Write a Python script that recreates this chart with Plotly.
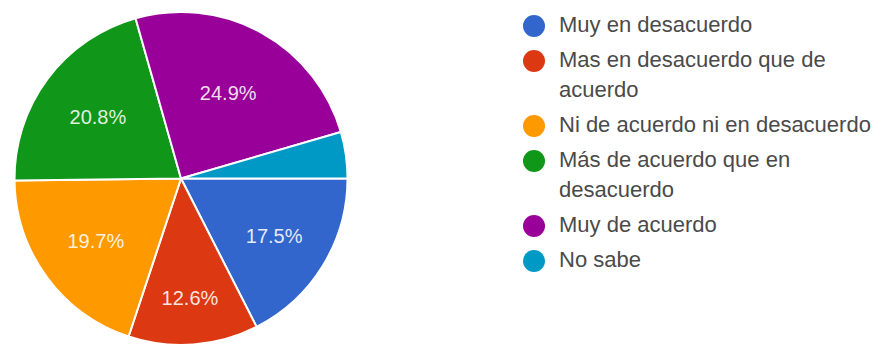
import plotly.graph_objects as go

# Datos de la encuesta (porcentajes)
categorias = [
    "Muy en desacuerdo",
    "Mas en desacuerdo que de acuerdo",
    "Ni de acuerdo ni en desacuerdo",
    "Más de acuerdo que en desacuerdo",
    "Muy de acuerdo",
    "No sabe",
]
# Etiquetas de la leyenda, con los saltos de línea del original
leyenda = [
    "Muy en desacuerdo",
    "Mas en desacuerdo que de<br>acuerdo",
    "Ni de acuerdo ni en desacuerdo",
    "Más de acuerdo que en<br>desacuerdo",
    "Muy de acuerdo",
    "No sabe",
]
porcentajes = [17.5, 12.6, 19.7, 20.8, 24.9, 4.5]
colores = ["#3366CC", "#DC3912", "#FF9900", "#109618", "#990099", "#0099C6"]

# Las porciones pequeñas no llevan etiqueta (como en Google Forms)
textos = ["%{percent:.1%}" if p >= 5 else "" for p in porcentajes]

# La página tiene 8 px de margen en el body, la figura se achica lo mismo
ancho, alto = 876, 337

fig = go.Figure()

# Gráfico de torta
fig.add_trace(go.Pie(
    labels=categorias,
    values=porcentajes,
    marker=dict(colors=colores, line=dict(color="white", width=2)),
    sort=False,
    direction="clockwise",
    rotation=90,
    texttemplate=textos,
    textposition="inside",
    insidetextorientation="horizontal",
    textfont=dict(color="rgba(255,255,255,0.88)", size=20, family="Arial, Liberation Sans"),
    domain=dict(x=[6 / ancho, 340 / ancho], y=[0, 1 - 4 / alto]),
    showlegend=False,
    hoverinfo="label+percent",
))

# Leyenda propia: círculos y texto en varias líneas (ejes en píxeles)
alto_linea = 30
separacion = 5
y_ini = 18
y_marcas = []
y_lineas = []
lineas = []
y = y_ini
for etiqueta in leyenda:
    partes = etiqueta.split("<br>")
    y_marcas.append(y)
    for parte in partes:
        lineas.append(parte)
        y_lineas.append(y)
        y += alto_linea
    y += separacion

fig.add_trace(go.Scatter(
    x=[526] * len(y_marcas),
    y=y_marcas,
    mode="markers",
    marker=dict(color=colores, size=22, symbol="circle", line=dict(width=0)),
    hoverinfo="skip",
    showlegend=False,
))
fig.add_trace(go.Scatter(
    x=[551] * len(lineas),
    y=y_lineas,
    mode="text",
    text=lineas,
    textposition="middle right",
    textfont=dict(color="#4a4a4a", size=22, family="Arial, Liberation Sans"),
    hoverinfo="skip",
    showlegend=False,
))

fig.update_layout(
    width=ancho,
    height=alto,
    margin=dict(l=0, r=0, t=0, b=0),
    paper_bgcolor="white",
    plot_bgcolor="white",
    xaxis=dict(range=[0, ancho], visible=False, fixedrange=True),
    yaxis=dict(range=[alto, 0], visible=False, fixedrange=True),
    showlegend=False,
)

fig.write_html("out.html")
